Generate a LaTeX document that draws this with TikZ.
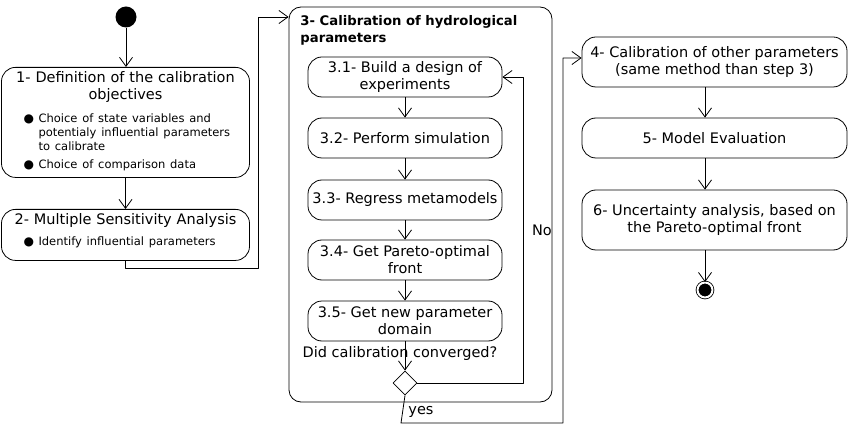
\documentclass[tikz,border=0pt]{standalone}
\usepackage{fontspec}
\setmainfont{DejaVu Sans}
\usetikzlibrary{arrows.meta,shapes.geometric}
\newcommand{\itm}[1]{\par\noindent\hangindent=15pt\hangafter=1\makebox[15pt][l]{\fontsize{12}{12}\selectfont●}#1}
\begin{document}
\begin{tikzpicture}[x=1pt, y=-1pt, line width=.8pt, line join=round, >={Straight Barb[length=9pt,width=13pt]},
    font=\fontsize{14.5}{17}\selectfont,
    box/.style={draw, rounded corners=14pt, inner sep=4pt},
    act/.style={box, align=center, minimum width=194pt, minimum height=40pt},
    lst/.style={box, anchor=north, text width=240pt, minimum width=245pt}]
    \useasboundingbox (0,0) rectangle (850,427);
    \node[circle, fill, minimum size=21pt, inner sep=0pt] (start) at (126,17) {};
    \node[lst] (s1) at (125.5,67) {{\centering 1- Definition of the calibration\\objectives\par}\vspace{9pt}
        {\fontsize{11.5}{14}\selectfont\raggedright\leftskip=18pt
        \itm{Choice of state variables and\newline potentialy influential parameters\newline to calibrate}\par\vspace{4pt}
        \itm{Choice of comparison data\rule[-5pt]{0pt}{5pt}}\par}};
    \node[lst] (s2) at (125.5,209) {{\centering 2- Multiple Sensitivity Analysis\par}\vspace{7pt}
        {\fontsize{11.5}{14}\selectfont\raggedright\leftskip=18pt
        \itm{Identify influential parameters\rule[-11pt]{0pt}{11pt}}\par}};
    \draw[->] (start) -- (start |- s1.north);
    \draw[->] (s1) -- (s2);
    \node[draw, rounded corners=12pt, minimum width=263pt, minimum height=395pt] (s3) at (420.5,204.5) {};
    \node[anchor=north west, align=left, inner sep=0pt, font=\bfseries\fontsize{13.2}{17}\selectfont] (t3) at (300,15) {3- Calibration of hydrological\\parameters};
    \coordinate (k1) at (258,268); \coordinate (k2) at (258,17);
    \draw[->] (s2.south) |- (k1) -- (k2) -- (s3.west |- k2);
    \foreach \i/\y/\t in {1/77/{3.1- Build a design of\\experiments}, 2/138/{3.2- Perform simulation}, 3/200/{3.3- Regress metamodels},
        4/260/{3.4- Get Pareto-optimal\\front}, 5/321/{3.5- Get new parameter\\domain}}
        \node[act] (s3\i) at (405,\y) {\t};
    \foreach \a/\b in {1/2,2/3,3/4,4/5} \draw[->] (s3\a) -- (s3\b);
    \node (q) at (400,353) {Did calibration converged?};
    \node[diamond, draw, fill=white, minimum width=24pt, minimum height=24pt, inner sep=0pt] (dec) at (405,383) {};
    \draw[->] (s35) -- (dec);
    \coordinate (k3) at (523,77);
    \draw[->] (dec.east) -| (k3) -- (s31.east);
    \node (no) at (542,230) {No};
    \node[act, minimum width=265pt, minimum height=50pt] (s4) at (714.5,62) {4- Calibration of other parameters\\(same method than step 3)};
    \node[act, minimum width=265pt] (s5) at (714.5,138) {5- Model Evaluation};
    \node[act, minimum width=265pt, minimum height=60pt] (s6) at (714.5,220) {6- Uncertainty analysis, based on\\the Pareto-optimal front};
    \node[circle, draw, fill, minimum size=15pt, inner sep=0pt, double, double distance=2pt] (end) at (705,290) {};
    \coordinate (k4) at (401,423); \coordinate (k5) at (563,58);
    \draw[->] (dec.south) -- (k4) -| (k5) -- (s4.west |- k5);
    \node (yes) at (421,412) {yes};
    \draw[->] (s4.south -| end) -- (s5.north -| end);
    \draw[->] (s5.south -| end) -- (s6.north -| end);
    \draw[->] (s6.south -| end) -- (end);
\end{tikzpicture}
\end{document}
